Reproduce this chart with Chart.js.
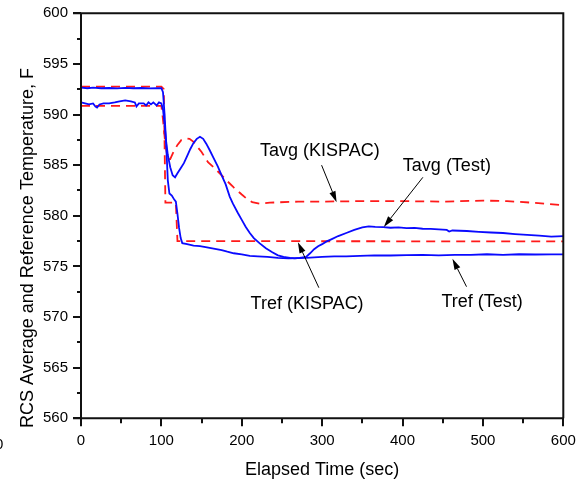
<!DOCTYPE html>
<html><head><meta charset="utf-8">
<script src="https://cdn.jsdelivr.net/npm/chart.js@4.4.1/dist/chart.umd.min.js"></script>
<style>html,body{margin:0;padding:0;background:#fff}#wrap{width:582px;height:484px}</style>
</head><body><div id="wrap"><canvas id="c" width="582" height="484"></canvas></div>
<script>
// ---- axis settings ----
const xMin = 0, xMax = 600, xMajor = 100, xMinor = 50;
const yMin = 560, yMax = 600, yMajor = 5, yMinor = 2.5;
const xTitle = 'Elapsed Time (sec)';
const yTitle = 'RCS Average and Reference Temperature, F';

// ---- series: [time (sec), temperature (F)] ----
const tavgTest = [[0,591.2],[5,591.1],[10,591.0],[15,591.1],[18,590.8],[20,590.7],[23,591.0],[28,591.1],[35,591.1],[42,591.2],[48,591.3],[55,591.4],[62,591.3],[67,591.2],[69,590.8],[72,591.1],[78,591.1],[81,590.9],[84,591.2],[87,591.0],[90,591.2],[94,590.9],[97,591.2],[100,591.1],[102,590.5],[104,589.0],[106,587.3],[108,586.0],[111,584.8],[114,584.0],[117,583.8],[120,584.2],[124,584.7],[128,585.2],[132,585.9],[136,586.6],[140,587.2],[144,587.6],[148,587.8],[152,587.6],[156,587.1],[160,586.5],[165,585.7],[170,584.9],[175,584.0],[180,583.1],[185,581.9],[189,581.2],[195,580.3],[200,579.6],[205,578.9],[210,578.3],[215,577.8],[222,577.3],[230,576.8],[238,576.4],[245,576.1],[252,575.95],[260,575.85],[266,575.8],[272,575.85],[280,575.95],[285,576.3],[290,576.7],[295,577.0],[300,577.2],[305,577.45],[312,577.7],[320,578.0],[330,578.3],[340,578.6],[350,578.85],[358,578.95],[366,578.9],[376,578.88],[385,578.82],[395,578.85],[405,578.78],[415,578.8],[425,578.72],[435,578.7],[445,578.65],[455,578.6],[458,578.45],[462,578.55],[480,578.5],[495,578.42],[510,578.35],[525,578.3],[540,578.2],[555,578.12],[570,578.05],[585,577.95],[600,578.0]];

const trefTest = [[0,592.65],[8,592.6],[15,592.65],[25,592.6],[35,592.62],[45,592.58],[55,592.63],[65,592.6],[75,592.62],[85,592.58],[95,592.6],[100,592.6],[102,592.2],[104,590.0],[106,587.0],[108,583.5],[110,582.2],[113,582.0],[116,581.6],[118,581.4],[120,580.2],[122,578.8],[124,577.8],[126,577.3],[132,577.2],[140,577.05],[148,577.0],[155,576.9],[165,576.75],[175,576.6],[182,576.45],[190,576.3],[200,576.2],[210,576.05],[220,576.0],[232,575.95],[245,575.85],[258,575.8],[270,575.82],[280,575.85],[290,575.9],[300,575.95],[315,576.0],[330,576.0],[347,576.05],[365,576.1],[385,576.08],[405,576.12],[425,576.15],[445,576.1],[465,576.15],[485,576.15],[505,576.2],[525,576.15],[545,576.2],[565,576.18],[585,576.2],[600,576.2]];

const tavgKispac = [[0,590.85],[100,590.85],[102,589.5],[105,587.0],[108,585.6],[111,585.6],[115,586.3],[120,587.0],[125,587.5],[131,587.65],[135,587.6],[140,587.3],[145,586.8],[150,586.3],[158,585.3],[165,584.8],[170,584.4],[181,583.5],[190,582.8],[200,582.1],[206,581.7],[213,581.35],[222,581.2],[235,581.3],[270,581.4],[300,581.4],[350,581.45],[400,581.45],[450,581.4],[500,581.5],[530,581.45],[560,581.3],[600,581.05]];

const trefKispac = [[0,592.75],[100,592.75],[103,592.5],[105,581.3],[118,581.3],[120,577.5],[600,577.47]];

// ---- annotations: label, text anchor [t, T] (left, baseline), arrow from [t,T] to [t,T] ----
const noteLabels = ['Tavg (KISPAC)', 'Tavg (Test)', 'Tref (KISPAC)', 'Tref (Test)'];
const noteAt = [[222.6,585.9],[400.4,584.45],[211,570.75],[448.5,570.95]];
const arrowFrom = [[299.3,585.0],[425.3,583.8],[295.9,572.9],[479.6,573.0]];
const arrowTo = [[318,581.35],[376.7,578.9],[269.8,577.4],[462.1,575.75]];

const FONT = "'Liberation Sans', Arial, Helvetica, sans-serif";
const toPts = a => a.map(p => ({x:p[0], y:p[1]}));

const decor = {
  id: 'decor',
  afterDatasetsDraw(chart) {
    const {ctx, chartArea: a, scales: {x, y}} = chart;
    ctx.save();
    ctx.strokeStyle = '#111';
    ctx.lineWidth = 2;
    ctx.lineCap = 'butt';
    ctx.beginPath();
    // frame
    ctx.moveTo(a.left, a.bottom); ctx.lineTo(a.left, a.top);
    ctx.moveTo(a.left - 8, a.top); ctx.lineTo(a.right, a.top); ctx.lineTo(a.right, a.bottom);
    ctx.moveTo(a.left - 8, a.bottom); ctx.lineTo(a.right, a.bottom);
    // y ticks
    for (let v = yMin; v <= yMax + 1e-9; v += yMinor) {
      const p = Math.round(y.getPixelForValue(v));
      const major = Math.abs(v / yMajor - Math.round(v / yMajor)) < 1e-6;
      ctx.moveTo(a.left - (major ? 8 : 4), p); ctx.lineTo(a.left, p);
    }
    // x ticks
    for (let v = xMin; v <= xMax + 1e-9; v += xMinor) {
      const p = Math.round(x.getPixelForValue(v));
      const major = Math.abs(v / xMajor - Math.round(v / xMajor)) < 1e-6;
      ctx.moveTo(p, a.bottom); ctx.lineTo(p, a.bottom + (major ? 8 : 5));
    }
    ctx.stroke();

    // annotations
    ctx.fillStyle = '#000';
    ctx.font = '18px ' + FONT;
    ctx.textAlign = 'left';
    ctx.textBaseline = 'alphabetic';
    noteLabels.forEach((s, i) => {
      ctx.fillText(s, x.getPixelForValue(noteAt[i][0]), y.getPixelForValue(noteAt[i][1]));
    });
    ctx.strokeStyle = '#000';
    ctx.lineWidth = 1;
    arrowFrom.forEach((f, i) => {
      const x0 = x.getPixelForValue(f[0]), y0 = y.getPixelForValue(f[1]);
      const x1 = x.getPixelForValue(arrowTo[i][0]), y1 = y.getPixelForValue(arrowTo[i][1]);
      const ang = Math.atan2(y1 - y0, x1 - x0);
      const L = 11, W = 3.2;
      const bx = x1 - L * Math.cos(ang), by = y1 - L * Math.sin(ang);
      ctx.beginPath(); ctx.moveTo(x0, y0); ctx.lineTo(bx, by); ctx.stroke();
      ctx.beginPath();
      ctx.moveTo(x1, y1);
      ctx.lineTo(bx + W * Math.sin(ang), by - W * Math.cos(ang));
      ctx.lineTo(bx - W * Math.sin(ang), by + W * Math.cos(ang));
      ctx.closePath(); ctx.fill();
    });

    // axis titles
    ctx.font = '18px ' + FONT;
    ctx.textAlign = 'center';
    ctx.fillText(xTitle, (a.left + a.right) / 2, 475);
    ctx.save();
    ctx.translate(33, 248);
    ctx.rotate(-Math.PI / 2);
    ctx.fillText(yTitle, 0, 0);
    ctx.restore();
    // clipped stray glyph at the left edge
    ctx.font = '15px ' + FONT;
    ctx.textAlign = 'left';
    ctx.fillText('0', -5, 449);
    ctx.restore();
  }
};

new Chart(document.getElementById('c'), {
  type: 'line',
  data: {
    datasets: [
      {label: 'Tavg (Test)', data: toPts(tavgTest), borderColor: '#0a0aff', borderWidth: 1.8},
      {label: 'Tref (Test)', data: toPts(trefTest), borderColor: '#0a0aff', borderWidth: 1.8},
      {label: 'Tavg (KISPAC)', data: toPts(tavgKispac), borderColor: '#ff1a1a', borderWidth: 1.8, borderDash: [9, 6]},
      {label: 'Tref (KISPAC)', data: toPts(trefKispac), borderColor: '#ff1a1a', borderWidth: 1.8, borderDash: [9, 6]}
    ]
  },
  options: {
    responsive: false,
    animation: false,
    devicePixelRatio: 1,
    parsing: false,
    elements: {point: {radius: 0}, line: {tension: 0, fill: false}},
    layout: {padding: {top: 13.3, right: 18.7, left: 0, bottom: 0}},
    plugins: {legend: {display: false}, tooltip: {enabled: false}},
    scales: {
      x: {
        type: 'linear', min: xMin, max: xMax,
        grid: {display: false}, border: {display: false},
        ticks: {stepSize: xMajor, color: '#000', font: {family: FONT, size: 15}, padding: 6, maxRotation: 0, autoSkip: false},
        afterFit(s) { s.height = 65.7; s.paddingLeft = 0; s.paddingRight = 0; s.paddingTop = 0; s.paddingBottom = 0; }
      },
      y: {
        type: 'linear', min: yMin, max: yMax,
        grid: {display: false}, border: {display: false},
        ticks: {stepSize: yMajor, color: '#000', font: {family: FONT, size: 15}, padding: 5, autoSkip: false},
        afterFit(s) { s.width = 81; s.paddingLeft = 0; s.paddingRight = 0; s.paddingTop = 0; s.paddingBottom = 0; }
      }
    }
  },
  plugins: [decor]
});
</script>
</body></html>
